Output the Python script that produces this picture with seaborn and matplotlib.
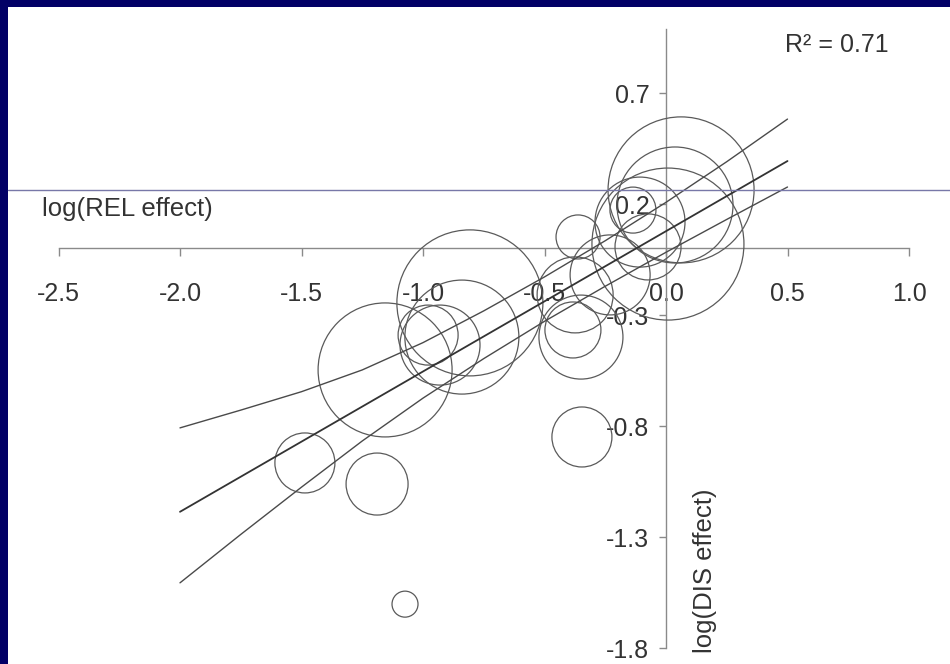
import numpy as np
import pandas as pd
import matplotlib
matplotlib.use("Agg")
import matplotlib.pyplot as plt
import seaborn as sns
from matplotlib.lines import Line2D

# ---- data ----
rel_effect = [-1.486, -1.189, -1.074, -0.346, -1.156, -0.807, -0.840, -0.979, -0.930,
              -0.362, -0.383, -0.350, -0.374, 0.062, 0.008, -0.136, -0.107, -0.074,
              -0.230, 0.037]
dis_effect = [-0.966, -1.061, -1.602, -0.849, -0.547, -0.245, -0.399, -0.390, -0.435,
              0.052, -0.367, -0.399, -0.209, 0.264, 0.020, 0.173, 0.119, 0.007,
              -0.119, 0.196]
weight = [30, 31, 13, 30, 67, 73, 57, 30, 40, 22, 28, 42, 38, 73, 76, 23, 45, 33, 40, 58]

band_x = [-2.0, -1.75, -1.5, -1.25, -1.0, -0.75, -0.5, -0.25, 0.0, 0.25, 0.5]
fit_y = [-1.186, -1.028, -0.870, -0.712, -0.554, -0.396, -0.238, -0.080, 0.078, 0.236, 0.394]
upper_y = [-0.808, -0.728, -0.645, -0.547, -0.424, -0.281, -0.128, 0.035, 0.208, 0.391, 0.583]
lower_y = [-1.506, -1.288, -1.075, -0.867, -0.674, -0.496, -0.328, -0.170, -0.017, 0.131, 0.277]

x_ticks = [-2.5, -2.0, -1.5, -1.0, -0.5, 0.0, 0.5, 1.0]
y_ticks = [0.7, 0.2, -0.3, -0.8, -1.3, -1.8]
r2_text = "R² = 0.71"

# ---- figure ----
W, H = 950, 664
DPI = 100
sns.set_style("white")
plt.rcParams['font.family'] = ['Liberation Sans', 'DejaVu Sans']

fig = plt.figure(figsize=(W / DPI, H / DPI), dpi=DPI, facecolor="#020066")

# axes placement in pixels
left_px, top_px = 8, 7
x0_px, y0_px = 666.0, 248.5        # pixel of data origin
sx, sy = 243.0, 222.0              # pixels per data unit
ax = fig.add_axes([left_px / W, 0, (W - left_px) / W, (H - top_px) / H])
ax.set_facecolor("white")
ax.set_xlim((left_px - x0_px) / sx, (W - x0_px) / sx)
ax.set_ylim((y0_px - H) / sy, (y0_px - top_px) / sy)

df = pd.DataFrame({"rel": rel_effect, "dis": dis_effect, "w": weight})
size_map = {w: (2 * w * 72.0 / DPI) ** 2 for w in set(weight)}
sns.scatterplot(data=df, x="rel", y="dis", size="w", sizes=size_map,
                facecolors="none", edgecolor="#5a5a5a", linewidth=0.9,
                legend=False, ax=ax, zorder=3)

bands = pd.DataFrame({"x": band_x, "fit": fit_y, "up": upper_y, "lo": lower_y})
sns.lineplot(data=bands, x="x", y="fit", color="#333333", lw=1.3, ax=ax, zorder=4)
sns.lineplot(data=bands, x="x", y="up", color="#4a4a4a", lw=1.0, ax=ax, zorder=4)
sns.lineplot(data=bands, x="x", y="lo", color="#4a4a4a", lw=1.0, ax=ax, zorder=4)

# spines through origin
for s in ["top", "right"]:
    ax.spines[s].set_visible(False)
ax.spines["left"].set_position(("data", 0))
ax.spines["bottom"].set_position(("data", 0))
ax.spines["left"].set_bounds(-1.8, 0.99)
ax.spines["bottom"].set_bounds(-2.5, 1.0)
for s in ["left", "bottom"]:
    ax.spines[s].set_color("#8a8a8a")
    ax.spines[s].set_linewidth(1.0)
    ax.spines[s].set_zorder(2)

ax.set_xticks(x_ticks)
ax.set_xticklabels([f"{v:.1f}" for v in x_ticks])
ax.set_yticks(y_ticks)
ax.set_yticklabels([f"{v:.1f}" for v in y_ticks])
ax.tick_params(axis="x", direction="out", length=6, width=1, color="#8a8a8a",
               pad=18, labelsize=18, labelcolor="#333333", bottom=True)
ax.tick_params(axis="y", direction="out", length=5, width=1, color="#8a8a8a",
               pad=7, labelsize=18, labelcolor="#333333", left=True)
ax.set_xlabel("")
ax.set_ylabel("")

ax.text(42 / W, 1 - 209 / H, "log(REL effect)", transform=fig.transFigure,
        fontsize=18.5, color="#333333", ha="left", va="center")
ax.text(705 / W, 1 - 571 / H, "log(DIS effect)", transform=fig.transFigure,
        fontsize=18.5, color="#333333", ha="center", va="center", rotation=90)
ax.text(785 / W, 1 - 45 / H, r2_text, transform=fig.transFigure,
        fontsize=18, color="#333333", ha="left", va="center")

# slide artefact line
fig.add_artist(Line2D([left_px / W, 1], [1 - 190 / H, 1 - 190 / H],
                      transform=fig.transFigure, color="#7878a8", lw=1.0, zorder=10))

fig.savefig("out.png", dpi=DPI, facecolor=fig.get_facecolor())
